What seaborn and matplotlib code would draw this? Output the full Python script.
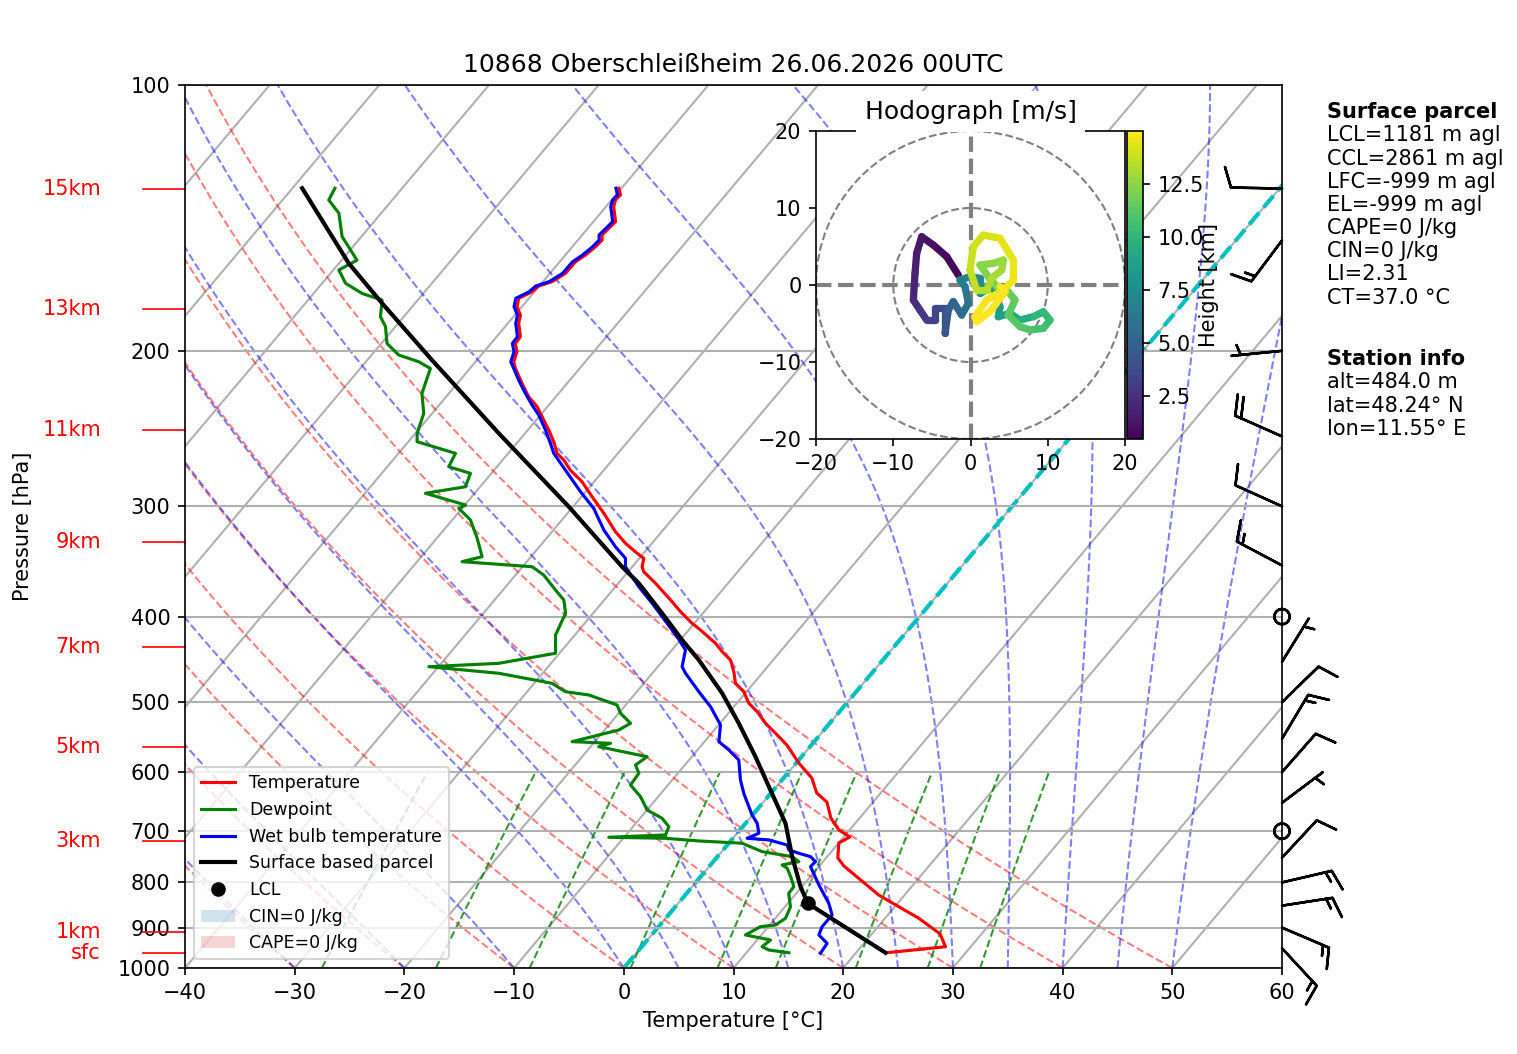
import numpy as np
import pandas as pd
import matplotlib
matplotlib.use("Agg")
import matplotlib.pyplot as plt
import matplotlib.transforms as mtransforms
from matplotlib.collections import LineCollection
from matplotlib.patches import Circle, Patch
from matplotlib.ticker import FixedLocator, NullLocator, StrMethodFormatter
import seaborn as sns

# ---------------- data ----------------
title = "10868 Oberschleißheim 26.06.2026 00UTC"

# (pressure hPa, temperature degC)
temperature = [
    (960.9, 22.83), (946.0, 27.69), (915.1, 26.23), (878.4, 23.08), (826.8, 17.65),
    (766.3, 12.23), (750.5, 11.07), (721.8, 10.01), (710.6, 10.56), (697.7, 9.02),
    (676.2, 7.37), (648.6, 5.78), (633.6, 4.17), (609.3, 2.57), (585.9, 0.23),
    (559.0, -2.24), (542.2, -4.17), (528.3, -5.85), (512.5, -7.50), (501.4, -8.90),
    (486.5, -10.25), (476.0, -11.65), (461.8, -12.69), (447.9, -13.89), (438.3, -15.29),
    (428.8, -16.54), (414.2, -18.93), (407.0, -20.21), (394.9, -22.15), (383.0, -23.96),
    (366.7, -26.61), (355.8, -28.57), (351.2, -29.10), (343.6, -29.59), (339.1, -30.59),
    (330.4, -32.41), (320.6, -34.21), (305.5, -36.69), (292.6, -39.03), (281.4, -41.09),
    (273.0, -43.05), (265.9, -44.42), (261.3, -45.55), (253.5, -46.74), (245.9, -48.09),
    (237.5, -49.72), (231.4, -50.94), (225.5, -52.47), (217.7, -54.11), (209.4, -55.86),
    (205.8, -56.52), (200.5, -56.99), (196.2, -57.78), (192.8, -57.83), (186.2, -59.01),
    (182.2, -59.49), (178.3, -60.44), (174.4, -60.93), (171.5, -60.22), (168.9, -60.05),
    (167.0, -59.16), (163.4, -58.58), (158.6, -58.56), (155.8, -58.17), (152.5, -57.89),
    (149.8, -57.80), (147.9, -58.19), (144.7, -58.06), (142.8, -57.98), (137.4, -59.29),
    (135.0, -59.65), (133.2, -59.58), (130.9, -60.24),
]

dewpoint = [
    (960.9, 13.87), (954.2, 11.84), (946.0, 10.97), (929.6, 11.23), (917.5, 8.56),
    (897.8, 9.29), (893.9, 10.53), (878.4, 10.93), (852.5, 10.50), (823.2, 9.31),
    (808.8, 9.26), (788.0, 8.20), (770.9, 7.24), (764.3, 6.53), (757.8, 7.80),
    (748.0, 6.81), (738.3, 3.69), (722.3, 1.22), (718.0, -2.90), (713.0, -6.14),
    (711.1, -11.39), (706.8, -6.40), (691.7, -6.73), (676.8, -7.99), (662.3, -9.99),
    (639.7, -11.61), (620.5, -13.42), (601.8, -13.56), (589.0, -14.50), (576.4, -14.08),
    (561.5, -19.25), (556.6, -18.44), (554.2, -22.07), (537.6, -18.71), (528.3, -18.15),
    (514.7, -19.83), (503.7, -20.78), (490.7, -24.12), (486.5, -26.50), (476.0, -28.37),
    (463.7, -33.99), (455.8, -40.88), (451.8, -34.76), (440.1, -30.36), (419.6, -31.76),
    (396.5, -32.51), (383.0, -33.69), (373.2, -35.21), (358.9, -37.43), (351.2, -39.13),
    (346.6, -45.90), (342.1, -44.46), (326.1, -46.32), (310.9, -48.33), (301.6, -50.29),
    (299.0, -49.93), (290.0, -54.48), (285.1, -51.34), (275.3, -51.91), (270.6, -54.39),
    (261.3, -54.81), (253.5, -59.20), (248.0, -59.84), (235.4, -60.77), (223.5, -62.46),
    (209.4, -63.61), (205.8, -65.18), (202.2, -67.52), (196.2, -69.48), (187.8, -70.90),
    (183.0, -72.12), (175.2, -73.26), (172.2, -75.59), (167.7, -77.87), (162.0, -79.50),
    (157.9, -78.60), (148.5, -81.76), (139.7, -83.85), (135.0, -85.78), (130.9, -86.13),
]

wetbulb = [
    (962.4, 16.80), (937.6, 16.64), (917.5, 15.25), (897.8, 14.91), (870.8, 14.92),
    (844.9, 13.73), (805.2, 11.41), (767.7, 9.25), (757.8, 9.32), (748.0, 8.48),
    (741.4, 7.16), (735.0, 5.99), (725.5, 5.45), (716.1, 3.40), (713.0, 1.29),
    (703.7, 1.98), (685.6, 1.06), (671.0, -0.04), (634.1, -2.46), (612.5, -3.78),
    (581.3, -5.47), (566.4, -7.14), (554.2, -8.69), (530.6, -9.82), (505.9, -12.13),
    (486.5, -14.35), (463.7, -16.97), (455.8, -17.79), (436.4, -18.76), (421.5, -20.55),
    (386.3, -25.39), (370.0, -27.87), (351.2, -30.62), (343.6, -31.26), (333.4, -33.06),
    (319.1, -35.41), (301.6, -37.99), (288.8, -40.47), (273.0, -43.50), (261.3, -45.85),
    (254.6, -46.92), (245.9, -48.39), (236.5, -50.15), (230.4, -51.53), (223.5, -53.03),
    (215.9, -54.66), (209.4, -56.01), (205.8, -56.79), (200.5, -57.26), (196.2, -58.05),
    (192.8, -58.10), (186.2, -59.28), (182.2, -59.76), (178.3, -60.71), (174.4, -61.20),
    (171.5, -60.49), (168.9, -60.32), (167.0, -59.43), (163.4, -58.85), (158.6, -58.83),
    (155.8, -58.44), (152.5, -58.16), (149.8, -58.07), (147.9, -58.46), (144.7, -58.33),
    (142.8, -58.25), (137.4, -59.56), (135.0, -59.92), (133.2, -59.85), (130.9, -60.51),
]

parcel = [
    (960.9, 22.68), (844.9, 11.81), (808.8, 9.87), (748.0, 6.81), (685.6, 3.64),
    (623.2, -0.68), (576.4, -4.20), (528.3, -8.28), (488.5, -12.10), (447.9, -16.78),
    (425.1, -19.84), (396.5, -23.71), (366.7, -28.13), (351.2, -30.93), (300.3, -40.39),
    (248.0, -52.40), (204.9, -64.10), (176.7, -73.00), (159.2, -79.11), (130.9, -89.11),
]
lcl_p, lcl_t = 844.9, 11.81

# wind barbs (pressure, u, v)
barb_p = [950, 900, 850, 800, 750, 700, 650, 600, 550, 500, 450, 400, 350, 300, 250, 200, 150, 131]
barb_u = [-10.2, -13.8, -14.8, -14.6, -6.8, 0, -4.0, -6.6, -7.7, -7.2, -2.6, 0, 13.2, 9.1, 18.3, 5.0, 9.0, 10.0]
barb_v = [11.0, 5.9, -2.3, -3.4, -7.3, 0, -3.0, -7.5, -12.9, -7.0, -4.2, 0, -7.0, -4.1, -8.1, 0.5, 12.0, -0.2]

# height marks on the left
height_labels = ["15km", "13km", "11km", "9km", "7km", "5km", "3km", "1km", "sfc"]
height_p = [131.2, 179.4, 245.9, 329.3, 433.3, 562.3, 718.0, 909.7, 960.9]

# hodograph (u, v in m/s, height km)
hod_u = [-1.58, -3.08, -4.81, -6.32, -6.97, -7.18, -7.40, -6.54, -5.67, -4.60,
         -4.60, -3.30, -3.30, -2.87, -2.23, -1.14, -0.28, -0.71, -1.36, -0.06,
         1.23, 1.23, 2.95, 3.82, 3.60, 5.11, 6.41, 8.14, 9.42, 10.30,
         9.42, 7.70, 6.41, 4.89, 5.76, 4.89, 3.39, 2.30, 1.23, 2.95,
         4.25, 4.04, 2.74, 2.10, 0.80, -0.06, 0.37, 1.66, 3.82, 5.54,
         5.54, 4.25, 2.10, 0.58, 0.80, 2.52, 4.47, 3.82]
hod_v = [1.30, 3.68, 5.19, 6.27, 4.11, 1.52, -1.95, -3.25, -4.55, -4.55,
         -3.03, -3.03, -6.28, -3.25, -2.16, -3.90, -2.38, -0.22, 0.65, 1.08,
         0.87, -1.08, -0.22, -2.82, -4.12, -3.68, -4.55, -4.12, -3.46, -4.55,
         -5.63, -5.84, -5.41, -3.90, -1.95, -0.87, -0.22, 1.08, 2.60, 2.81,
         3.25, 1.95, 0.87, -0.65, -0.65, 1.95, 4.98, 6.49, 6.06, 3.25,
         0.65, -0.65, -1.95, -4.12, -4.76, -3.46, -0.87, -0.22]
hod_h = [0.48, 0.7, 0.9, 1.1, 1.4, 1.7, 2.0, 2.4, 2.8, 3.1,
         3.4, 3.7, 4.0, 4.4, 4.8, 5.2, 5.6, 6.0, 6.4, 6.8,
         7.1, 7.4, 7.7, 8.0, 8.3, 8.7, 9.1, 9.5, 9.9, 10.2,
         10.5, 10.8, 11.0, 11.2, 11.4, 11.6, 11.8, 12.0, 12.2, 12.4,
         12.6, 12.8, 13.0, 13.2, 13.4, 13.6, 13.8, 14.0, 14.2, 14.4,
         14.55, 14.65, 14.75, 14.82, 14.88, 14.93, 14.97, 15.0]

parcel_text = ("LCL=1181 m agl\nCCL=2861 m agl\nLFC=-999 m agl\nEL=-999 m agl\n"
               "CAPE=0 J/kg\nCIN=0 J/kg\nLI=2.31\nCT=37.0 °C")
station_text = "alt=484.0 m\nlat=48.24° N\nlon=11.55° E"

# ---------------- helper curves (background guide lines) ----------------
def moist_adiabat(t0c, pres):
    rd, cp, lv, eps = 287.04, 1005.7, 2.501e6, 0.622

    def rate(p, t):
        es = 6.112 * np.exp(17.67 * (t - 273.15) / (t - 29.65))
        rs = eps * es / (p - es)
        return (rd * t + lv * rs) / (cp + lv * lv * rs * eps / (rd * t * t)) / p

    t = t0c + 273.15
    out = [t]
    for p0, p1 in zip(pres[:-1], pres[1:]):
        h = p1 - p0
        k1 = rate(p0, t)
        k2 = rate(p0 + h / 2, t + h / 2 * k1)
        k3 = rate(p0 + h / 2, t + h / 2 * k2)
        k4 = rate(p1, t + h * k3)
        t = t + h / 6 * (k1 + 2 * k2 + 2 * k3 + k4)
        out.append(t)
    return np.array(out) - 273.15


# ---------------- figure ----------------
W, H = 1517, 1054
fig = plt.figure(figsize=(W / 150, H / 150), dpi=150)
ax = fig.add_axes([185 / W, 86 / H, 1097 / W, 883 / H])
ax.set_yscale("log")
ax.set_xlim(-40, 60)
ax.set_ylim(1000, 100)

shear = np.arctan(0.8412 * 883 / 1097)
skew = ax.transScale + ax.transLimits + mtransforms.Affine2D().skew(shear, 0) + ax.transAxes
side = mtransforms.blended_transform_factory(ax.transAxes, ax.transData)

pp = np.linspace(1000, 100, 181)

# isotherms
for t in range(-110, 61, 10):
    ax.plot([t, t], [1000, 100], transform=skew, color="#b0b0b0", lw=1, zorder=1)

# dry adiabats
for th in np.arange(-30, 51, 10):
    tt = (th + 273.15) * (pp / 1000) ** 0.2857 - 273.15
    ax.plot(tt, pp, transform=skew, color="r", ls="--", lw=1, alpha=0.5, zorder=1.2)

# moist adiabats
for t0 in [-50, -40, -30, -20, -10, 0, 5, 10, 15, 20, 25, 30, 35, 40, 45, 50]:
    ax.plot(moist_adiabat(t0, pp), pp, transform=skew, color="b", ls="--", lw=1,
            alpha=0.5, zorder=1.2)

# mixing ratio lines
pm = np.linspace(1000, 600, 60)
for w in [0.0004, 0.001, 0.002, 0.004, 0.007, 0.01, 0.016, 0.024, 0.032]:
    e = pm * w / (0.622 + w)
    le = np.log(e / 6.112)
    ax.plot(243.5 * le / (17.67 - le), pm, transform=skew, color="g", ls="--", lw=1,
            alpha=0.8, zorder=1.2)

# 0 degC isotherm
ax.plot([0, 0], [1000, 100], transform=skew, color="c", ls="--", lw=2, zorder=1.5)

# profiles with seaborn
handles = []
for prof, col, lw in [(temperature, "r", 1.5), (dewpoint, "g", 1.5),
                      (wetbulb, "b", 1.5), (parcel, "k", 2)]:
    df = pd.DataFrame(prof, columns=["p", "T"])
    sns.lineplot(data=df, x="T", y="p", sort=False, estimator=None, color=col,
                 lw=lw, transform=skew, ax=ax, zorder=3)
    handles.append(ax.lines[-1])

lcl_h, = ax.plot([lcl_t], [lcl_p], "ko", ms=6, transform=skew, zorder=4)
handles.append(lcl_h)
handles.append(Patch(facecolor="tab:blue", alpha=0.2, edgecolor="none"))
handles.append(Patch(facecolor="tab:red", alpha=0.2, edgecolor="none"))
labels = ["Temperature", "Dewpoint", "Wet bulb temperature", "Surface based parcel",
          "LCL", "CIN=0 J/kg", "CAPE=0 J/kg"]
ax.legend(handles, labels, loc="lower left", fontsize="small")

# wind barbs on the right edge
ax.barbs(np.ones(len(barb_p)), barb_p, barb_u, barb_v, transform=side,
         clip_on=False, length=7, lw=1.2, zorder=5)

# height marks
for lab, p in zip(height_labels, height_p):
    ax.plot([-0.0383, 0], [p, p], transform=side, color="r", lw=0.8, clip_on=False)
    ax.text(-0.0766, p, lab, transform=side, color="r", ha="right", va="center",
            fontsize=10)

ax.grid(True, axis="y", color="#b0b0b0", lw=1)
ax.yaxis.set_major_locator(FixedLocator(list(range(100, 1001, 100))))
ax.yaxis.set_major_formatter(StrMethodFormatter("{x:.0f}"))
ax.yaxis.set_minor_locator(NullLocator())
ax.set_xticks(range(-40, 61, 10))
ax.set_xlim(-40, 60)
ax.set_ylim(1000, 100)
ax.set_xlabel("Temperature [°C]")
ax.set_ylabel("Pressure [hPa]")
ax.yaxis.set_label_coords(-0.1386, 0.5)
ax.set_title(title, fontsize=12)

# ---------------- hodograph ----------------
hax = fig.add_axes([816 / W, 1 - 439 / H, 309 / W, 308 / H])
hax.set_xlim(-20, 20)
hax.set_ylim(-20, 20)
for r in (10, 20):
    hax.add_patch(Circle((0, 0), r, fill=False, ls="--", color="gray", lw=1))
hax.axhline(0, color="gray", ls="--", lw=2)
hax.axvline(0, color="gray", ls="--", lw=2)
pts = np.column_stack([hod_u, hod_v])
segs = np.stack([pts[:-1], pts[1:]], axis=1)
lc = LineCollection(segs, cmap="viridis", norm=plt.Normalize(min(hod_h), max(hod_h)),
                    lw=3.5, capstyle="round")
lc.set_array(np.array(hod_h[1:]))
hax.add_collection(lc)
hax.set_xticks([-20, -10, 0, 10, 20])
hax.set_yticks([-20, -10, 0, 10, 20])
hax.set_title("Hodograph [m/s]", fontsize=12,
              bbox=dict(facecolor="white", edgecolor="none"))

cax = fig.add_axes([1127 / W, 1 - 439 / H, 16 / W, 308 / H])
cb = fig.colorbar(lc, cax=cax)
cb.set_ticks([2.5, 5, 7.5, 10, 12.5])
cb.set_label("Height [km]")
cax.yaxis.set_label_coords(4.5, 0.5)

# ---------------- info text ----------------
tx = 1327 / W
line_h = 23.3
fig.text(tx, 1 - 102 / H, "Surface parcel", weight="bold", va="top", fontsize=10)
fig.text(tx, 1 - (102 + line_h) / H, parcel_text, va="top", fontsize=10)
fig.text(tx, 1 - 349 / H, "Station info", weight="bold", va="top", fontsize=10)
fig.text(tx, 1 - (349 + line_h) / H, station_text, va="top", fontsize=10)

fig.savefig("out.png", dpi=150)
